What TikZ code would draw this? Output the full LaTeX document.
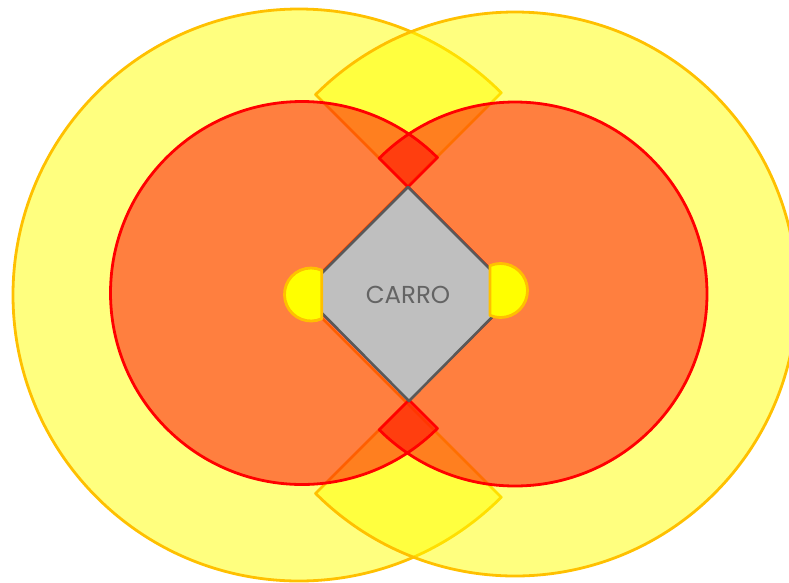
\documentclass[tikz,border=0pt]{standalone}
\usepackage{fontspec}
\setmainfont{Poppins}
\definecolor{gold}{RGB}{255,192,0}
\definecolor{yel}{RGB}{255,255,0}
\definecolor{rd}{RGB}{255,0,0}
\definecolor{carfill}{RGB}{191,191,191}
\definecolor{cardraw}{RGB}{89,89,89}
\definecolor{cartext}{RGB}{100,100,100}
\begin{document}
\begin{tikzpicture}[x=1pt,y=-1pt,
  ypie/.style={fill=yel, fill opacity=0.5, draw=gold, line width=2.8pt, line join=round},
  opie/.style={fill=rd, fill opacity=0.5, draw=rd, line width=2.8pt, line join=round},
  carbox/.style={fill=carfill, draw=cardraw, line width=2.6pt, line join=round},
  lamp/.style={fill=yel, draw=gold, line width=2.8pt, line join=round},
  cartxt/.style={text=cartext, font=\fontsize{24.5}{28}\selectfont, inner sep=0pt}]
\useasboundingbox (0,0) rectangle (789,582);
% centres
\coordinate (YL) at (299,295);
\coordinate (YR) at (515,294);
\coordinate (OL) at (302,293);
\coordinate (OR) at (515,294);
% outer yellow zones (270 degree sectors)
\draw[ypie] (YL) -- ++(45:286) arc[start angle=45, end angle=315, radius=286] -- cycle;
\draw[ypie] (YR) -- ++(135:282) arc[start angle=135, end angle=-135, radius=282] -- cycle;
% inner orange zones
\draw[opie] (OL) -- ++(45:191.5) arc[start angle=45, end angle=315, radius=191.5] -- cycle;
\draw[opie] (OR) -- ++(135:192) arc[start angle=135, end angle=-135, radius=192] -- cycle;
% car body
\coordinate (T) at (408,187);
\coordinate (B) at (409,401);
\draw[carbox] (OL) -- (T) -- (OR) -- (B) -- cycle;
% lamps
\draw[lamp] (311,294.5) ++(66:26.5) arc[start angle=66, end angle=294, radius=26.5] -- cycle;
\draw[lamp] (500.5,290.5) ++(-113:27) arc[start angle=-113, end angle=113, radius=27] -- cycle;
\node[cartxt] (carro) at (408,295) {CARRO};
\end{tikzpicture}
\end{document}
